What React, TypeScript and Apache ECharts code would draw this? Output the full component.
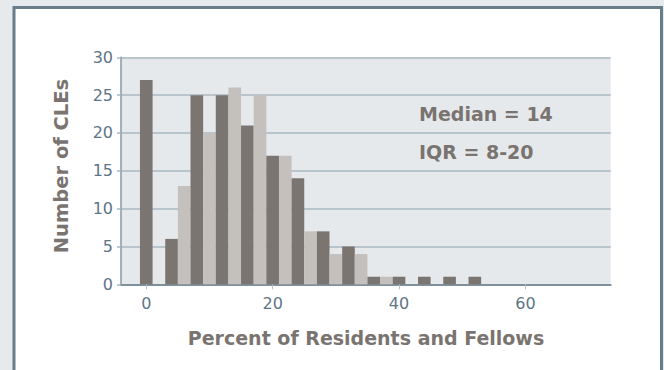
import React, { useEffect, useRef } from "react";
import * as echarts from "echarts";

const binStarts = [0, 2, 4, 6, 8, 10, 12, 14, 16, 18, 20, 22, 24, 26, 28, 30, 32, 34, 36, 38, 40, 42, 44, 46, 48, 50, 52];
const counts = [27, 0, 6, 13, 25, 20, 25, 26, 21, 25, 17, 17, 14, 7, 7, 4, 5, 4, 1, 1, 1, 0, 1, 0, 1, 0, 1];
const binWidth = 2;
const xTicks = [0, 20, 40, 60];
const xTitle = "Percent of Residents and Fellows";
const yTitle = "Number of CLEs";
const notes = ["Median = 14", "IQR = 8-20"];

const DARK = "#7b7572";
const LIGHT = "#c4c0be";
const TEXT_GREY = "#7a7471";
const LABEL_BLUE = "#5e7586";
const FONT = "'DejaVu Sans', 'Liberation Sans', Arial, sans-serif";

export default function App() {
  const ref = useRef<HTMLDivElement>(null);
  useEffect(() => {
    if (!ref.current) return;
    const chart = echarts.init(ref.current, undefined, { renderer: "svg" });
    const data = binStarts.map((x, i) => [x, counts[i], i]);
    chart.setOption({
      animation: false,
      backgroundColor: "#e6eaed",
      graphic: [
        {
          type: "rect",
          z: -10,
          shape: { x: 14, y: 7.5, width: 647.5, height: 420 },
          style: { fill: "#ffffff", stroke: "#687c89", lineWidth: 3 },
        },
        {
          type: "text",
          x: 366,
          y: 337.5,
          style: {
            text: xTitle,
            fill: TEXT_GREY,
            font: `bold 19px ${FONT}`,
            textAlign: "center",
            textVerticalAlign: "middle",
          },
        },
        {
          type: "text",
          x: 61,
          y: 166,
          rotation: Math.PI / 2,
          style: {
            text: yTitle,
            fill: TEXT_GREY,
            font: `bold 19.5px ${FONT}`,
            textAlign: "center",
            textVerticalAlign: "middle",
          },
        },
        {
          type: "text",
          x: 419,
          y: 114,
          style: {
            text: notes[0],
            fill: TEXT_GREY,
            font: `bold 19px ${FONT}`,
            textAlign: "left",
            textVerticalAlign: "middle",
          },
        },
        {
          type: "text",
          x: 419,
          y: 151.5,
          style: {
            text: notes[1],
            fill: TEXT_GREY,
            font: `bold 19px ${FONT}`,
            textAlign: "left",
            textVerticalAlign: "middle",
          },
        },
      ],
      grid: {
        left: 121,
        right: 53.3,
        top: 57.3,
        bottom: 85.7,
        show: true,
        backgroundColor: "#e6e9ec",
        borderWidth: 0,
        containLabel: false,
      },
      xAxis: {
        type: "value",
        min: -4,
        max: 73.5,
        axisLine: { show: true, onZero: false, lineStyle: { color: "#7f909c", width: 2 } },
        axisTick: {
          show: true,
          customValues: xTicks,
          length: 5,
          lineStyle: { color: "#b5c0c8", width: 1 },
        },
        axisLabel: {
          customValues: xTicks,
          color: LABEL_BLUE,
          fontSize: 16,
          fontFamily: FONT,
          margin: 11,
        },
        splitLine: { show: false },
      },
      yAxis: {
        type: "value",
        min: 0,
        max: 30,
        interval: 5,
        axisLine: { show: true, onZero: false, lineStyle: { color: "#8797a3", width: 1.5 } },
        axisTick: { show: true, length: 4, lineStyle: { color: "#a9b8c3", width: 1.5 } },
        axisLabel: {
          color: LABEL_BLUE,
          fontSize: 16,
          fontFamily: FONT,
          margin: 8,
        },
        splitLine: { show: true, lineStyle: { color: "#a9b8c3", width: 1.5 } },
      },
      series: [
        {
          type: "custom",
          data,
          encode: { x: 0, y: 1 },
          renderItem: (params: any, api: any) => {
            const x = api.value(0);
            const y = api.value(1);
            const idx = api.value(2);
            if (!y) return null;
            const p0 = api.coord([x - binWidth / 2, y]);
            const p1 = api.coord([x + binWidth / 2, 0]);
            return {
              type: "rect",
              shape: { x: p0[0], y: p0[1], width: p1[0] - p0[0], height: p1[1] - p0[1] },
              style: { fill: idx % 2 === 0 ? DARK : LIGHT },
              z2: 1,
            };
          },
          z: 1,
        },
      ],
    });
    return () => chart.dispose();
  }, []);
  return (
    <div
      ref={ref}
      style={{ position: "fixed", left: 0, top: 0, width: 664, height: 370 }}
    />
  );
}
